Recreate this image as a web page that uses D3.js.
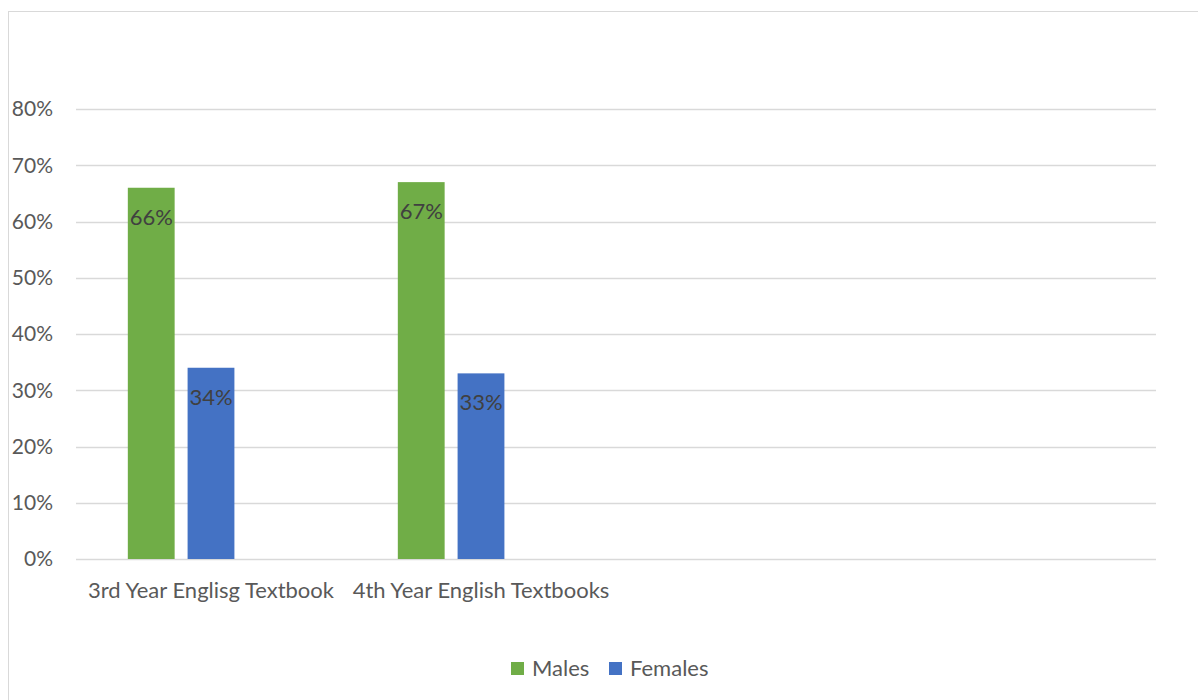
<!DOCTYPE html>
<html>
<head>
<meta charset="utf-8">
<script src="https://cdn.jsdelivr.net/npm/d3@7"></script>
<style>
  html, body { margin: 0; padding: 0; background: #fff; }
  svg { display: block; }
  text { font-family: Lato, "Open Sans", sans-serif; }
</style>
</head>
<body>
<svg id="chart" width="1198" height="700"></svg>
<script>
const categories = ["3rd Year Englisg Textbook", "4th Year English Textbooks", " ", "  "];
const seriesNames = ["Males", "Females"];
const males = [66, 67];
const females = [34, 33];
const yTicks = [0, 10, 20, 30, 40, 50, 60, 70, 80];
const colors = { Males: "#70AD47", Females: "#4472C4" };

const svg = d3.select("#chart");

// chart area border
svg.append("rect")
  .attr("x", 8.5).attr("y", 11.5)
  .attr("width", 1220).attr("height", 720)
  .attr("fill", "#fff").attr("stroke", "#D9D9D9").attr("stroke-width", 1);

const x0 = d3.scaleBand().domain(categories).range([76, 1156]).paddingInner(0).paddingOuter(0);
const x1 = d3.scaleBand().domain([...seriesNames, "_"]).range([0, x0.bandwidth()])
  .paddingInner(13 / 60).paddingOuter(0.867);
const y = d3.scaleLinear().domain([0, 80]).range([559, 109]);

// gridlines
svg.append("g").selectAll("line").data(yTicks).join("line")
  .attr("x1", 76).attr("x2", 1156)
  .attr("y1", d => Math.round(y(d)) + 0.5).attr("y2", d => Math.round(y(d)) + 0.5)
  .attr("stroke", "#D9D9D9").attr("stroke-width", 1.5);

// y labels
svg.append("g").selectAll("text").data(yTicks).join("text")
  .attr("x", 53).attr("y", d => y(d))
  .attr("dy", "0.35em").attr("text-anchor", "end")
  .attr("font-size", 21).attr("fill", "#595959")
  .text(d => d + "%");

// x labels
svg.append("g").selectAll("text").data(categories).join("text")
  .attr("x", d => x0(d) + x0.bandwidth() / 2).attr("y", 598)
  .attr("text-anchor", "middle")
  .attr("font-size", 22).attr("fill", "#595959")
  .text(d => d.trim());

// bars
const rows = categories.slice(0, males.length).map((c, i) => ({ cat: c, Males: males[i], Females: females[i] }));
const groups = svg.append("g").selectAll("g").data(rows).join("g")
  .attr("transform", d => `translate(${x0(d.cat)},0)`);

const bars = groups.selectAll("g.bar").data(d => seriesNames.map(s => ({ s, v: d[s] }))).join("g").attr("class", "bar");
bars.append("rect")
  .attr("x", d => x1(d.s)).attr("width", x1.bandwidth())
  .attr("y", d => y(d.v)).attr("height", d => y(0) - y(d.v))
  .attr("fill", d => colors[d.s]);
bars.append("text")
  .attr("x", d => x1(d.s) + x1.bandwidth() / 2)
  .attr("y", d => y(d.v) + 37)
  .attr("text-anchor", "middle")
  .attr("font-size", 22).attr("fill", "#404040")
  .text(d => d.v + "%");

// legend
const legendX = [511, 609];
const legend = svg.append("g").selectAll("g").data(seriesNames).join("g")
  .attr("transform", (d, i) => `translate(${legendX[i]},662)`);
legend.append("rect").attr("width", 13).attr("height", 13).attr("fill", d => colors[d]);
legend.append("text").attr("x", 21).attr("y", 13.5)
  .attr("font-size", 22).attr("fill", "#595959").text(d => d);
</script>
</body>
</html>
